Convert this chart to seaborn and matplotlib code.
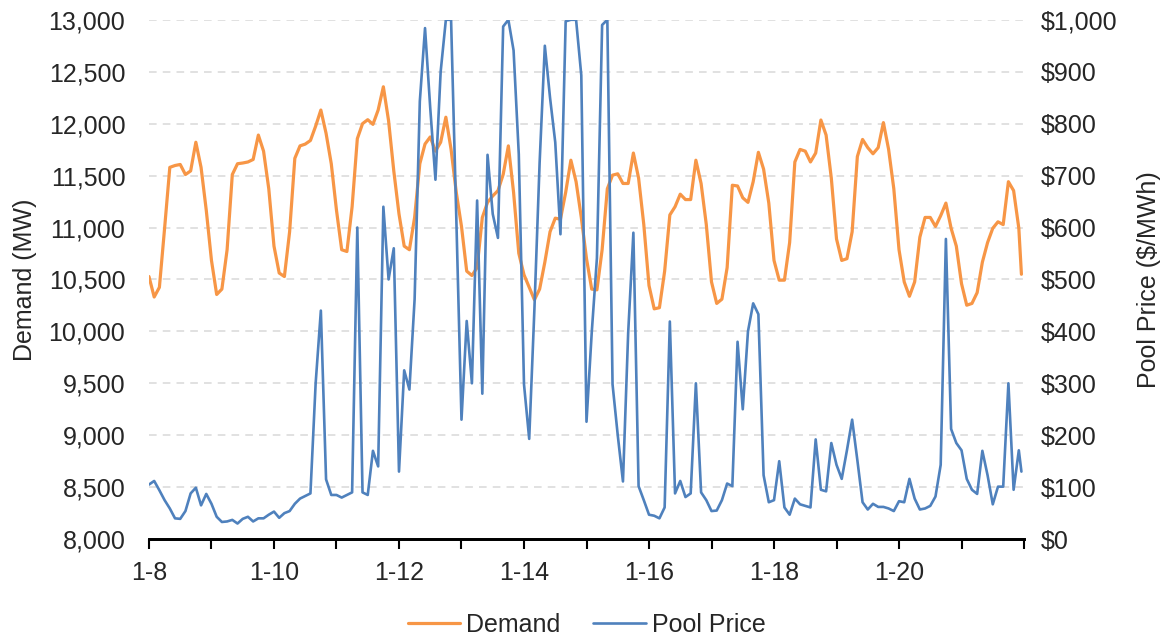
import pandas as pd
import matplotlib.pyplot as plt
import seaborn as sns
from matplotlib.lines import Line2D
from matplotlib.ticker import FuncFormatter, MultipleLocator

# hours since 1-8 00:00, sampled every 2 hours (plus the last hour)
hours = list(range(0, 336, 2)) + [335]

# Alberta demand (MW), one row per day
demand = [
    10528, 10331, 10424, 10993, 11579, 11597, 11607, 11510, 11545, 11821, 11579, 11166,  # 1-8
    10683, 10355, 10407, 10786, 11510, 11614, 11621, 11631, 11655, 11890, 11735, 11373,  # 1-9
    10821, 10562, 10528, 10959, 11666, 11786, 11803, 11838, 11976, 12131, 11907, 11614,  # 1-10
    11166, 10786, 10769, 11200, 11855, 12000, 12038, 11993, 12131, 12355, 12028, 11545,  # 1-11
    11131, 10821, 10786, 11097, 11614, 11804, 11872, 11735, 11821, 12062, 11752, 11338,  # 1-12
    11010, 10580, 10538, 10614, 11097, 11242, 11304, 11355, 11510, 11786, 11338, 10752,  # 1-13
    10545, 10424, 10304, 10407, 10666, 10959, 11090, 11080, 11338, 11648, 11441, 11097,  # 1-14
    10700, 10407, 10400, 10786, 11373, 11504, 11517, 11424, 11424, 11717, 11476, 11028,  # 1-15
    10441, 10217, 10228, 10579, 11121, 11200, 11321, 11269, 11269, 11648, 11424, 11028,  # 1-16
    10476, 10269, 10310, 10614, 11407, 11400, 11286, 11242, 11441, 11724, 11562, 11235,  # 1-17
    10683, 10493, 10493, 10855, 11631, 11752, 11735, 11631, 11717, 12035, 11890, 11476,  # 1-18
    10890, 10683, 10700, 10959, 11683, 11848, 11769, 11710, 11769, 12010, 11752, 11373,  # 1-19
    10786, 10476, 10338, 10476, 10907, 11097, 11097, 11010, 11114, 11235, 10993, 10821,  # 1-20
    10459, 10252, 10269, 10373, 10666, 10855, 10993, 11055, 11028, 11441, 11355, 10993,  # 1-21
    10550,
]

# pool price ($/MWh)
price = [
    105, 112, 94, 75, 59, 40, 39, 54, 88, 99, 65, 87,
    68, 43, 33, 34, 37, 30, 39, 43, 34, 40, 40, 47,
    53, 41, 50, 54, 68, 78, 83, 88, 300, 440, 115, 85,
    85, 80, 85, 90, 600, 90, 85, 170, 140, 640, 500, 560,
    130, 325, 288, 462, 843, 984, 830, 692, 900, 1000, 1000, 620,
    230, 420, 300, 652, 280, 740, 626, 580, 987, 1000, 941, 741,
    298, 193, 443, 725, 950, 850, 764, 587, 997, 1000, 1000, 893,
    226, 397, 541, 990, 1000, 298, 200, 111, 397, 590, 102, 75,
    47, 45, 40, 61, 419, 88, 112, 81, 88, 300, 90, 75,
    54, 55, 75, 107, 102, 380, 250, 400, 454, 433, 123, 71,
    75, 150, 61, 47, 78, 67, 64, 61, 192, 95, 92, 185,
    143, 116, 171, 230, 152, 71, 57, 68, 62, 62, 59, 54,
    73, 71, 116, 78, 57, 59, 64, 82, 143, 578, 212, 185,
    171, 116, 95, 87, 170, 123, 67, 101, 101, 300, 95, 171,
    130,
]

day_labels = ["1-8", "", "1-10", "", "1-12", "", "1-14", "", "1-16", "",
              "1-18", "", "1-20", "", ""]

df = pd.DataFrame({"hour": hours, "Demand": demand, "Pool Price": price})

orange = "#F79646"
blue = "#4F81BD"

sns.set_theme(style="white")
plt.rcParams["font.family"] = ["Liberation Sans", "DejaVu Sans"]

fig, ax = plt.subplots(figsize=(11.73, 6.38), dpi=100)
fig.subplots_adjust(left=0.127, right=0.873, top=0.969, bottom=0.155)
ax2 = ax.twinx()

sns.lineplot(data=df, x="hour", y="Demand", ax=ax, color=orange, linewidth=2.3)
sns.lineplot(data=df, x="hour", y="Pool Price", ax=ax2, color=blue, linewidth=1.9)

ax.set_xlim(0, 336)
ax.set_ylim(8000, 13000)
ax2.set_ylim(0, 1000)
ax.yaxis.set_major_locator(MultipleLocator(500))
ax2.yaxis.set_major_locator(MultipleLocator(100))
ax.yaxis.set_major_formatter(FuncFormatter(lambda v, p: f"{v:,.0f}"))
ax2.yaxis.set_major_formatter(FuncFormatter(lambda v, p: f"${v:,.0f}"))

ax.set_xticks([24 * i for i in range(len(day_labels))])
ax.set_xticklabels(day_labels)

ax.grid(axis="y", color="#D9D9D9", linestyle=(0, (5, 4)), linewidth=1.1)
ax.set_axisbelow(True)

for a in (ax, ax2):
    for s in ("top", "left", "right"):
        a.spines[s].set_visible(False)
    a.spines["bottom"].set_visible(True)
    a.spines["bottom"].set_color("black")
    a.spines["bottom"].set_linewidth(2)

ax.tick_params(axis="x", direction="out", length=7, width=1.5, color="black",
               bottom=True, labelsize=18, pad=9)
ax.tick_params(axis="y", length=0, labelsize=18, pad=17)
ax2.tick_params(axis="y", length=0, labelsize=18, pad=12)

ax.set_xlabel("")
ax.set_ylabel("Demand (MW)", fontsize=18, labelpad=8)
ax2.set_ylabel("Pool Price ($/MWh)", fontsize=18, labelpad=14)

handles = [Line2D([0], [0], color=orange, linewidth=2.3),
           Line2D([0], [0], color=blue, linewidth=1.9)]
fig.legend(handles, ["Demand", "Pool Price"], loc="center", bbox_to_anchor=(0.5, 0.02),
           ncol=2, frameon=False, fontsize=18, handlelength=2.1, handletextpad=0.25,
           columnspacing=1.3)

fig.savefig("out.png", dpi=100)
